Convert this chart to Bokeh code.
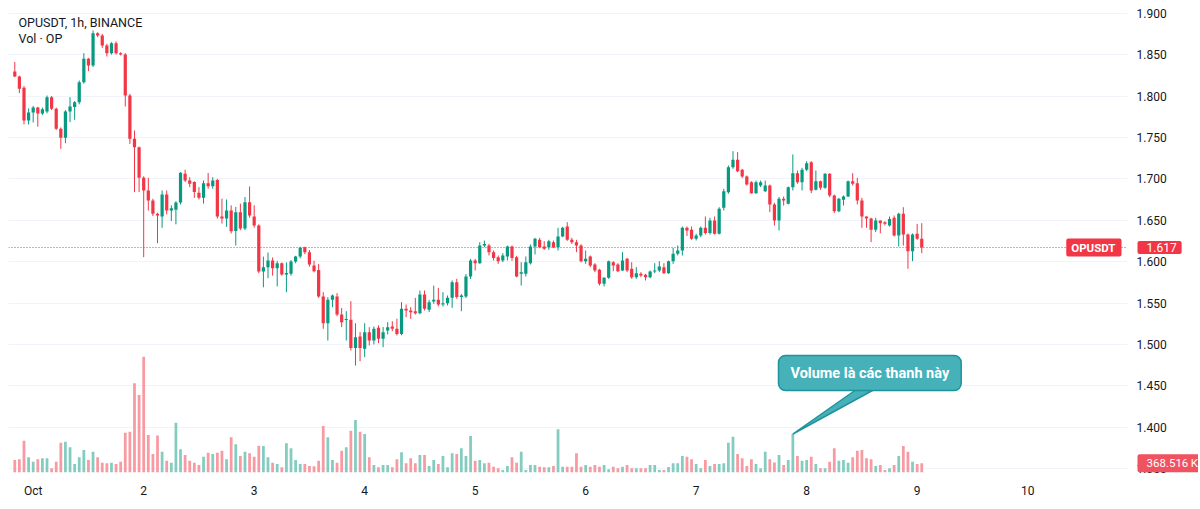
from bokeh.plotting import figure
from bokeh.models import Range1d, FixedTicker, NumeralTickFormatter, Label, Span, ColumnDataSource
from bokeh.embed import file_html
from bokeh.resources import INLINE

# ---------------- data (hourly candles, hour offset from Oct 1 00:00) ----------------
hours = list(range(-4, 194))

opens = [
    1.8296, 1.8236, 1.8099, 1.7704, 1.7800, 1.7860, 1.7790, 1.7813, 1.7986, 1.7845,
    1.7604, 1.7495, 1.7813, 1.7866, 1.7926, 1.8167, 1.8449, 1.8368, 1.8759, 1.8730,
    1.8610, 1.8517, 1.8638, 1.8517, 1.8501, 1.8006, 1.7483, 1.7382, 1.7012, 1.6859,
    1.6738, 1.6577, 1.6545, 1.6811, 1.6617, 1.6625, 1.6714, 1.7060, 1.6980, 1.6960,
    1.6832, 1.6770, 1.6947, 1.6910, 1.6987, 1.6545, 1.6520, 1.6617, 1.6370, 1.6597,
    1.6400, 1.6718, 1.6545, 1.6436, 1.5881, 1.5933, 1.6013, 1.5920, 1.5980, 1.5844,
    1.5852, 1.6000, 1.6062, 1.6174, 1.6114, 1.5953, 1.5900, 1.5578, 1.5256, 1.5538,
    1.5578, 1.5361, 1.5297, 1.5297, 1.4958, 1.5095, 1.4946, 1.5148, 1.5047, 1.5200,
    1.5067, 1.5168, 1.5216, 1.5188, 1.5127, 1.5430, 1.5410, 1.5401, 1.5377, 1.5603,
    1.5418, 1.5518, 1.5538, 1.5482, 1.5498, 1.5562, 1.5752, 1.5571, 1.5578, 1.5820,
    1.6013, 1.5981, 1.6195, 1.6195, 1.6114, 1.6053, 1.6013, 1.6062, 1.6182, 1.6053,
    1.5852, 1.5852, 1.5981, 1.6182, 1.6263, 1.6182, 1.6174, 1.6235, 1.6174, 1.6303,
    1.6424, 1.6263, 1.6235, 1.6195, 1.6005, 1.6062, 1.5965, 1.5901, 1.5732, 1.5804,
    1.5993, 1.5965, 1.5893, 1.6033, 1.5913, 1.5812, 1.5852, 1.5840, 1.5812, 1.5881,
    1.5893, 1.5933, 1.5860, 1.6005, 1.6094, 1.6134, 1.6408, 1.6384, 1.6275, 1.6315,
    1.6408, 1.6344, 1.6496, 1.6335, 1.6649, 1.6839, 1.7141, 1.7229, 1.7108, 1.7028,
    1.6959, 1.6827, 1.6919, 1.6851, 1.6919, 1.6690, 1.6496, 1.6758, 1.6698, 1.6899,
    1.7068, 1.6959, 1.7108, 1.7201, 1.6867, 1.6971, 1.6891, 1.7060, 1.6798, 1.6609,
    1.6746, 1.6787, 1.6971, 1.6947, 1.6738, 1.6545, 1.6520, 1.6384, 1.6496, 1.6476,
    1.6436, 1.6529, 1.6315, 1.6577, 1.6327, 1.6126, 1.6335, 1.6275,
]

highs = [
    1.8410, 1.8245, 1.8120, 1.7850, 1.7880, 1.7870, 1.7860, 1.8006, 1.8000, 1.7860,
    1.7620, 1.7830, 1.7986, 1.7940, 1.8187, 1.8517, 1.8460, 1.8791, 1.8770, 1.8750,
    1.8630, 1.8650, 1.8660, 1.8530, 1.8520, 1.8026, 1.7583, 1.7390, 1.7030, 1.7012,
    1.6760, 1.6590, 1.6860, 1.6860, 1.6680, 1.6730, 1.7080, 1.7110, 1.7020, 1.6970,
    1.6900, 1.6980, 1.7070, 1.7020, 1.7000, 1.6760, 1.6750, 1.6680, 1.6660, 1.6700,
    1.6780, 1.6907, 1.6680, 1.6450, 1.6060, 1.6110, 1.6050, 1.6010, 1.5990, 1.5990,
    1.6020, 1.6070, 1.6180, 1.6180, 1.6140, 1.6010, 1.5970, 1.5631, 1.5571, 1.5603,
    1.5620, 1.5440, 1.5401, 1.5522, 1.5256, 1.5148, 1.5256, 1.5208, 1.5216, 1.5230,
    1.5210, 1.5270, 1.5280, 1.5310, 1.5510, 1.5482, 1.5450, 1.5562, 1.5651, 1.5651,
    1.5538, 1.5710, 1.5683, 1.5631, 1.5591, 1.5772, 1.5792, 1.5610, 1.5850, 1.6033,
    1.6033, 1.6235, 1.6255, 1.6214, 1.6134, 1.6074, 1.6102, 1.6194, 1.6194, 1.6070,
    1.5993, 1.6062, 1.6207, 1.6287, 1.6287, 1.6247, 1.6263, 1.6255, 1.6408, 1.6420,
    1.6476, 1.6287, 1.6263, 1.6210, 1.6134, 1.6074, 1.5981, 1.5913, 1.5812, 1.6013,
    1.6005, 1.5981, 1.6114, 1.6045, 1.5993, 1.5933, 1.5872, 1.5852, 1.5893, 1.5981,
    1.6005, 1.5981, 1.6013, 1.6166, 1.6195, 1.6424, 1.6424, 1.6424, 1.6335, 1.6424,
    1.6545, 1.6529, 1.6545, 1.6657, 1.6879, 1.7161, 1.7334, 1.7322, 1.7120, 1.7040,
    1.6971, 1.6979, 1.6979, 1.6979, 1.6930, 1.6710, 1.6780, 1.6787, 1.6907, 1.7294,
    1.7100, 1.7133, 1.7213, 1.7213, 1.7100, 1.6979, 1.7068, 1.7068, 1.6810, 1.6770,
    1.6799, 1.6979, 1.7068, 1.7012, 1.6770, 1.6545, 1.6530, 1.6529, 1.6496, 1.6488,
    1.6545, 1.6557, 1.6590, 1.6657, 1.6340, 1.6340, 1.6456, 1.6464,
]

lows = [
    1.8228, 1.8034, 1.7656, 1.7656, 1.7680, 1.7630, 1.7770, 1.7790, 1.7830, 1.7590,
    1.7362, 1.7430, 1.7684, 1.7712, 1.7900, 1.8150, 1.8300, 1.8350, 1.8710, 1.8580,
    1.8477, 1.8500, 1.8500, 1.8490, 1.7873, 1.7422, 1.6839, 1.6839, 1.6054, 1.6617,
    1.6550, 1.6222, 1.6408, 1.6570, 1.6490, 1.6450, 1.6690, 1.6960, 1.6900, 1.6770,
    1.6750, 1.6700, 1.6880, 1.6880, 1.6520, 1.6460, 1.6420, 1.6340, 1.6194, 1.6380,
    1.6380, 1.6530, 1.6410, 1.5860, 1.5690, 1.5800, 1.5830, 1.5700, 1.5830, 1.5630,
    1.5830, 1.5980, 1.6040, 1.6090, 1.5940, 1.5870, 1.5562, 1.5188, 1.5047, 1.5450,
    1.5340, 1.5208, 1.5047, 1.4926, 1.4745, 1.4797, 1.4846, 1.4987, 1.5000, 1.5015,
    1.4967, 1.5120, 1.5160, 1.5107, 1.5110, 1.5330, 1.5309, 1.5360, 1.5365, 1.5410,
    1.5390, 1.5490, 1.5458, 1.5458, 1.5470, 1.5442, 1.5550, 1.5401, 1.5560, 1.5790,
    1.5893, 1.5973, 1.6174, 1.6074, 1.6013, 1.5973, 1.5993, 1.6013, 1.6010, 1.5810,
    1.5711, 1.5820, 1.5965, 1.6086, 1.6162, 1.6142, 1.6142, 1.6162, 1.6134, 1.6295,
    1.6250, 1.6214, 1.6114, 1.5990, 1.5973, 1.5933, 1.5872, 1.5711, 1.5699, 1.5792,
    1.5884, 1.5872, 1.5885, 1.5873, 1.5792, 1.5792, 1.5812, 1.5772, 1.5800, 1.5860,
    1.5872, 1.5852, 1.5852, 1.5973, 1.6074, 1.6074, 1.6310, 1.6263, 1.6255, 1.6295,
    1.6327, 1.6327, 1.6327, 1.6327, 1.6617, 1.6819, 1.7121, 1.7080, 1.7010, 1.6919,
    1.6819, 1.6819, 1.6900, 1.6840, 1.6597, 1.6436, 1.6376, 1.6677, 1.6690, 1.6859,
    1.6940, 1.6859, 1.7092, 1.6827, 1.6859, 1.6867, 1.6879, 1.6778, 1.6585, 1.6597,
    1.6677, 1.6779, 1.6919, 1.6690, 1.6408, 1.6408, 1.6235, 1.6356, 1.6343, 1.6436,
    1.6424, 1.6303, 1.6182, 1.6194, 1.5913, 1.6005, 1.6263, 1.6102,
]

closes = [
    1.8236, 1.8087, 1.7704, 1.7800, 1.7860, 1.7790, 1.7840, 1.7986, 1.7845, 1.7604,
    1.7495, 1.7813, 1.7873, 1.7926, 1.8167, 1.8449, 1.8368, 1.8759, 1.8730, 1.8610,
    1.8517, 1.8638, 1.8517, 1.8501, 1.8006, 1.7483, 1.7382, 1.7012, 1.6859, 1.6738,
    1.6577, 1.6557, 1.6811, 1.6617, 1.6645, 1.6714, 1.7072, 1.6980, 1.6940, 1.6840,
    1.6770, 1.6947, 1.6911, 1.6979, 1.6545, 1.6520, 1.6617, 1.6368, 1.6597, 1.6400,
    1.6718, 1.6557, 1.6436, 1.5881, 1.5933, 1.6013, 1.5920, 1.5980, 1.5844, 1.5861,
    1.6000, 1.6062, 1.6166, 1.6114, 1.5965, 1.5884, 1.5578, 1.5256, 1.5538, 1.5591,
    1.5361, 1.5268, 1.5305, 1.4958, 1.5087, 1.4958, 1.5148, 1.5047, 1.5188, 1.5067,
    1.5148, 1.5208, 1.5188, 1.5127, 1.5430, 1.5410, 1.5389, 1.5377, 1.5603, 1.5430,
    1.5510, 1.5538, 1.5482, 1.5498, 1.5562, 1.5752, 1.5571, 1.5591, 1.5820, 1.6013,
    1.5981, 1.6195, 1.6214, 1.6114, 1.6045, 1.6005, 1.6074, 1.6182, 1.6045, 1.5820,
    1.5872, 1.5993, 1.6182, 1.6275, 1.6174, 1.6154, 1.6247, 1.6174, 1.6303, 1.6408,
    1.6263, 1.6235, 1.6195, 1.6005, 1.6033, 1.5953, 1.5893, 1.5732, 1.5804, 1.6005,
    1.5953, 1.5884, 1.6013, 1.5893, 1.5812, 1.5860, 1.5832, 1.5812, 1.5881, 1.5893,
    1.5941, 1.5860, 1.6005, 1.6094, 1.6134, 1.6408, 1.6376, 1.6275, 1.6315, 1.6408,
    1.6344, 1.6496, 1.6335, 1.6637, 1.6851, 1.7141, 1.7229, 1.7092, 1.7028, 1.6931,
    1.6827, 1.6959, 1.6959, 1.6919, 1.6690, 1.6496, 1.6758, 1.6738, 1.6899, 1.7068,
    1.6959, 1.7108, 1.7189, 1.6859, 1.6971, 1.6891, 1.7060, 1.6798, 1.6609, 1.6758,
    1.6787, 1.6971, 1.6939, 1.6738, 1.6545, 1.6520, 1.6384, 1.6496, 1.6464, 1.6456,
    1.6516, 1.6315, 1.6577, 1.6327, 1.6126, 1.6327, 1.6275, 1.6170,
]

# volume in thousands of OP
volumes_k = [
    500, 528, 1272, 608, 432, 528, 568, 568, 168, 432,
    1192, 1232, 1008, 340, 608, 900, 500, 832, 608, 392,
    368, 392, 340, 432, 1592, 1632, 3568, 3100, 4632, 1500,
    740, 1480, 832, 472, 392, 1992, 928, 700, 472, 392,
    300, 632, 792, 740, 792, 872, 528, 1408, 1128, 660,
    832, 768, 632, 1072, 1060, 608, 392, 340, 208, 1168,
    968, 500, 340, 340, 260, 248, 472, 1860, 1408, 500,
    392, 872, 1008, 1672, 2100, 1632, 1540, 608, 300, 208,
    300, 300, 208, 528, 808, 368, 568, 368, 700, 700,
    260, 500, 340, 660, 208, 768, 740, 968, 660, 1460,
    472, 500, 368, 392, 232, 168, 100, 260, 608, 392,
    832, 100, 300, 300, 232, 208, 208, 260, 1728, 232,
    232, 232, 768, 232, 300, 232, 300, 232, 300, 128,
    232, 168, 232, 300, 168, 168, 168, 168, 300, 300,
    100, 100, 220, 368, 368, 660, 632, 528, 340, 168,
    500, 260, 340, 340, 368, 1192, 1432, 740, 568, 260,
    528, 340, 168, 832, 528, 400, 700, 300, 500, 1540,
    660, 472, 500, 632, 340, 168, 168, 432, 968, 472,
    500, 392, 608, 872, 900, 568, 528, 260, 300, 100,
    168, 300, 660, 1060, 832, 432, 340, 368.516,
]

day_ticks = [0, 24, 48, 72, 96, 120, 144, 168, 192, 216]
day_labels = ["Oct", "2", "3", "4", "5", "6", "7", "8", "9", "10"]
price_ticks = [1.35, 1.40, 1.45, 1.50, 1.55, 1.60, 1.65, 1.70, 1.75, 1.80, 1.85, 1.90]

symbol = "OPUSDT"
title_text = "OPUSDT, 1h, BINANCE"
vol_legend = "Vol \u00b7 OP"
note_text = "Volume là các thanh này"
note_hour = 165

n = len(hours)
assert all(len(a) == n for a in (opens, highs, lows, closes, volumes_k))

# ---------------- styling ----------------
UP, DOWN = "#089981", "#F23645"
UP_VOL, DOWN_VOL = "#84CCC0", "#F89AA2"
TXT = "#131722"
FONT = "Roboto"

PAD_L = 8
TOP_BORDER, TOP_HIDDEN = 60, 52      # top border hosts the scale tags; hidden part is shifted off-page
FRAME_W, FRAME_H = 1119, 464
RIGHT_W, BOTTOM_H = 71, 29
W, H = PAD_L + FRAME_W + RIGHT_W, TOP_BORDER + FRAME_H + BOTTOM_H
X0, X1 = -5.365, 237.69
Y0, Y1 = 1.34529, 1.90568
VMAX = 18560.0
HX = (X1 - X0) / FRAME_W        # hours per pixel
VY = VMAX / FRAME_H              # volume units per pixel
PY = (Y1 - Y0) / FRAME_H         # price per pixel

is_up = [c >= o for o, c in zip(opens, closes)]
tops, bots = [], []
for o, c in zip(opens, closes):
    t, b = max(o, c), min(o, c)
    if t - b < PY:
        m = (t + b) / 2
        t, b = m + PY / 2, m - PY / 2
    tops.append(t)
    bots.append(b)

src = ColumnDataSource(dict(
    x=hours, high=highs, low=lows, top=tops, bottom=bots, vol=volumes_k,
    color=[UP if u else DOWN for u in is_up],
    vcolor=[UP_VOL if u else DOWN_VOL for u in is_up],
))

p = figure(width=W, height=H, x_range=Range1d(X0, X1), y_range=Range1d(Y0, Y1),
           y_axis_location="right", output_backend="svg", toolbar_location=None, tools="",
           min_border_left=PAD_L, min_border_right=RIGHT_W, min_border_top=TOP_BORDER,
           min_border_bottom=BOTTOM_H, background_fill_color="white",
           border_fill_color="white", outline_line_color=None)
p.styles = {"margin-top": f"-{TOP_HIDDEN}px"}
p.extra_y_ranges = {"vol": Range1d(0, VMAX)}

# grid
p.xgrid.grid_line_color = None
p.ygrid.ticker = FixedTicker(ticks=price_ticks)
p.ygrid.grid_line_color = "#F0F3FA"
p.ygrid.grid_line_width = 1

# axes
ya = p.yaxis[0]
ya.ticker = FixedTicker(ticks=price_ticks)
ya.formatter = NumeralTickFormatter(format="0.000")
xa = p.xaxis[0]
xa.ticker = FixedTicker(ticks=day_ticks)
xa.major_label_overrides = {t: l for t, l in zip(day_ticks, day_labels)}
for ax in (xa, ya):
    ax.axis_line_color = None
    ax.major_tick_line_color = None
    ax.minor_tick_line_color = None
    ax.major_tick_in = 0
    ax.major_tick_out = 0
    ax.major_label_text_font = FONT
    ax.major_label_text_font_size = "12px"
    ax.major_label_text_color = TXT
ya.major_label_standoff = 9
xa.major_label_standoff = 11

# volume bars
p.vbar(x="x", top="vol", bottom=0, width=0.6, fill_color="vcolor", line_color=None,
       y_range_name="vol", source=src)
# candles
p.segment(x0="x", y0="low", x1="x", y1="high", line_color="color", line_width=1, source=src)
p.vbar(x="x", top="top", bottom="bottom", width=0.7, fill_color="color", line_color=None, source=src)

# last price line
p.add_layout(Span(location=closes[-1], dimension="width", line_color=DOWN,
                  line_dash="1 2", line_width=1))

# legend texts
p.add_layout(Label(x=10, y=FRAME_H - 6, x_units="screen", y_units="screen", text=title_text,
                   text_baseline="top", text_font=FONT, text_font_size="12.5px", text_color=TXT))
p.add_layout(Label(x=10, y=FRAME_H - 22, x_units="screen", y_units="screen", text=vol_legend,
                   text_baseline="top", text_font=FONT, text_font_size="12.5px", text_color=TXT))

# price tags on the right scale (hosted in the top border so they are not clipped to the frame)
p.add_layout(Label(x=X1, y=closes[-1], x_offset=-6, text=symbol, text_align="right",
                   text_baseline="middle", text_font=FONT, text_font_size="11.5px",
                   text_font_style="bold", text_color="white", background_fill_color=DOWN,
                   padding=(5, 6, 2, 2), border_radius=2))
p.add_layout(Label(x=X1, y=closes[-1], x_offset=10, text=f"{closes[-1]:.3f}", text_align="left",
                   text_baseline="middle", text_font=FONT, text_font_size="12px",
                   text_color="white", background_fill_color=DOWN,
                   padding=(9, 5, 2, 2), border_radius=2), "above")
p.add_layout(Label(x=X1, y=volumes_k[-1], y_range_name="vol", x_offset=10,
                   text=f"{volumes_k[-1]:.3f}\u2009K", text_align="left",
                   text_baseline="middle", text_font=FONT, text_font_size="11.5px",
                   text_color="white", background_fill_color="#F0525F",
                   padding=(9, 3, 2, 2), border_radius=2), "above")

# callout pointing to a volume bar
ai = hours.index(note_hour)
tip_x, tip_y = hours[ai], volumes_k[ai]
p.patch(x=[tip_x, tip_x + 67 * HX, tip_x + 86 * HX],
        y=[tip_y, tip_y + 47 * VY, tip_y + 47 * VY],
        fill_color="#47B1BA", line_color="#1E939C", line_width=1.5, y_range_name="vol")
p.add_layout(Label(x=tip_x, y=tip_y, y_range_name="vol", x_offset=77, y_offset=61,
                   text=note_text, text_align="center", text_baseline="middle",
                   text_font=FONT, text_font_size="14.5px", text_font_style="bold",
                   text_color="white", background_fill_color="#47B1BA",
                   border_line_color="#1E939C", border_line_width=1.5,
                   padding=(12, 12, 9, 9), border_radius=7))

open("out.html", "w").write(file_html(p, INLINE))
